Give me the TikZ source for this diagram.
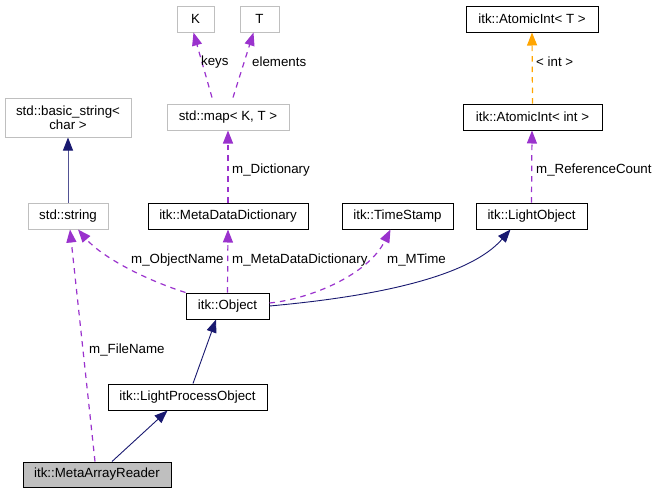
\documentclass[tikz,border=0pt]{standalone}
\usepackage{fontspec}
\setmainfont{Liberation Sans}
\usetikzlibrary{arrows.meta}

\definecolor{inhnavy}{HTML}{191970}
\definecolor{usepurple}{HTML}{9A32CD}
\definecolor{tplorange}{HTML}{FFA500}
\definecolor{extgrey}{HTML}{BFBFBF}

\tikzset{
  klass/.style={draw=black, line width=1pt, minimum height=26pt, inner sep=0pt,
    font=\fontsize{13.3}{14.5}\selectfont},
  extklass/.style={klass, draw=extgrey},
  edgelabel/.style={anchor=west, inner sep=0pt, font=\fontsize{13.3}{14.5}\selectfont},
  inherit/.style={draw=inhnavy, line width=0.9pt, -{Triangle[length=13pt,width=10pt]}},
  member/.style={draw=usepurple, line width=1.2pt, dash pattern=on 5.5pt off 5pt,
    -{Triangle[length=13pt,width=10pt]}},
  tplinst/.style={member, draw=tplorange},
}

\begin{document}
\begin{tikzpicture}[x=1pt, y=-1pt]
  \useasboundingbox (0, 0) rectangle (655, 493);

  % classes
  \node[extklass, minimum width=37pt] (k) at (195.5, 19) {K};
  \node[extklass, minimum width=39pt] (t) at (259.5, 19) {T};
  \node[klass, minimum width=132pt] (atomT) at (532, 19) {itk::AtomicInt< T >};

  \node[extklass, minimum width=126pt, minimum height=39pt, align=center]
    (bstr) at (68, 117.5) {std::basic\_string<\\char >};
  \node[extklass, minimum width=122pt] (map) at (228, 117) {std::map< K, T >};
  \node[klass, minimum width=139pt] (atomInt) at (532.5, 117) {itk::AtomicInt< int >};

  \node[extklass, minimum width=80pt] (str) at (68, 216) {std::string};
  \node[klass, minimum width=160pt] (mdd) at (228, 216) {itk::MetaDataDictionary};
  \node[klass, minimum width=111pt] (tstamp) at (397.5, 216) {itk::TimeStamp};
  \node[klass, minimum width=111pt] (lobj) at (531.5, 216) {itk::LightObject};

  \node[klass, minimum width=83pt] (obj) at (227.5, 306) {itk::Object};
  \node[klass, minimum width=159pt] (lpo) at (187.5, 397) {itk::LightProcessObject};
  \node[klass, fill=extgrey, minimum width=148pt, minimum height=25pt]
    (reader) at (97, 474.5) {itk::MetaArrayReader};

  % inheritance
  \draw[inherit, draw=inhnavy!75, -{Triangle[length=13pt,width=10pt,color=inhnavy]}]
    (str.north) -- (bstr.south);
  \draw[inherit] ([xshift=5.5pt]lpo.north) -- ([xshift=-11.5pt]obj.south);
  \draw[inherit] ([xshift=15pt]reader.north) -- ([xshift=-20pt]lpo.south);
  \draw[inherit] (obj.east) .. controls (380, 296) and (470, 276) .. ([xshift=-21pt]lobj.south);

  % template instance
  \draw[tplinst] (atomInt.north) -- (atomT.south);
  \node[edgelabel] (lblint) at (536, 62) {< int >};

  % members
  \draw[member] ([xshift=-16pt, yshift=6pt]map.north) -- ([xshift=-2pt]k.south);
  \node[edgelabel] (lblkeys) at (201, 62) {keys};
  \draw[member] ([xshift=5pt, yshift=6pt]map.north) -- ([xshift=-6pt]t.south);
  \node[edgelabel] (lblelem) at (252, 62) {elements};

  \draw[member] (mdd.north) -- (map.south);
  \node[edgelabel] (lbldict) at (232, 170) {m\_Dictionary};

  \draw[member] (lobj.north) -- ([xshift=-0.5pt]atomInt.south);
  \node[edgelabel] (lblref) at (536, 170) {m\_ReferenceCount};

  \draw[member] (obj.north west) .. controls (140, 278) and (100, 255) .. ([xshift=10pt]str.south);
  \node[edgelabel] (lblname) at (131, 260) {m\_ObjectName};

  \draw[member] (obj.north) -- (mdd.south);
  \node[edgelabel] (lblmdd) at (232, 260) {m\_MetaDataDictionary};

  \draw[member] ([yshift=3pt]obj.east) .. controls (310, 299) and (368, 275) .. ([xshift=-7pt]tstamp.south);
  \node[edgelabel] (lblmtime) at (387, 260) {m\_MTime};

  \draw[member] ([xshift=-2pt]reader.north) -- ([xshift=2pt]str.south);
  \node[edgelabel] (lblfile) at (89, 350) {m\_FileName};
\end{tikzpicture}
\end{document}
